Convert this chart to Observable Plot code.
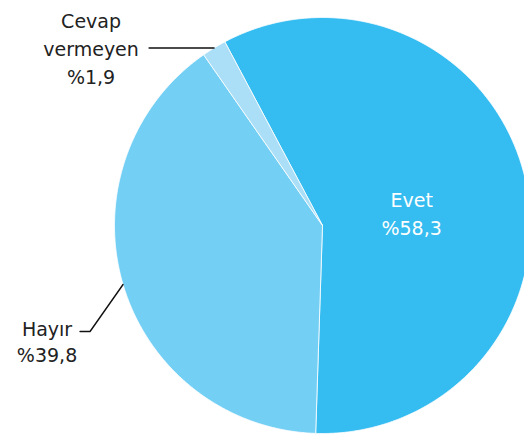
<!DOCTYPE html>
<html><head><meta charset="utf-8">
<script src="https://cdn.jsdelivr.net/npm/d3@7"></script>
<script src="https://cdn.jsdelivr.net/npm/@observablehq/plot@0.6"></script>
<style>html,body{margin:0;padding:0;background:#fff} #chart svg{display:block}</style>
</head><body><div id="chart"></div>
<script>
const categories = ["Evet", "Hayır", "Cevap vermeyen"];
const values = [58.3, 39.8, 1.9];
const labels = ["Evet\n%58,3", "Hayır\n%39,8", "Cevap\nvermeyen\n%1,9"];
const colors = ["#35bcf0", "#74cff5", "#aadff7"];

const W = 524, H = 443, cx = 322, cy = 225, R = 208;
const startDeg = -28;
const a0 = startDeg * Math.PI / 180;
const data = categories.map((c, i) => ({category: c, value: values[i], label: labels[i]}));
const arcs = d3.pie().sort(null).value(d => d.value).startAngle(a0).endAngle(a0 + 2 * Math.PI)(data);

// slice outlines (geometry only, derived from the pie angles)
const pts = [];
arcs.forEach(a => {
  const c = a.data.category;
  pts.push({category: c, x: 0, y: 0});
  const n = Math.max(2, Math.ceil((a.endAngle - a.startAngle) / (Math.PI / 360)));
  for (let k = 0; k <= n; k++) {
    const t = a.startAngle + (a.endAngle - a.startAngle) * k / n;
    pts.push({category: c, x: Math.sin(t), y: Math.cos(t)});
  }
  pts.push({category: c, x: 0, y: 0});
});

const mid = a => (a.startAngle + a.endAngle) / 2;
const edge = a => ({x: Math.sin(mid(a)), y: Math.cos(mid(a))});

// leaders
const cev = arcs[2], hay = arcs[1], evt = arcs[0];
const ce = edge(cev), he = edge(hay);
const leaders = [
  {id: "c", x: ce.x, y: ce.y},
  {id: "c", x: ce.x - 65 / R, y: ce.y},
  {id: "h", x: he.x, y: he.y},
  {id: "h", x: he.x - 33 / R, y: he.y - 47 / R},
  {id: "h", x: he.x - 43 / R, y: he.y - 47 / R}
];
const cevEnd = leaders[1], hayEnd = leaders[4];
const evPos = {x: 0.44 * Math.sin(mid(evt)), y: 0.44 * Math.cos(mid(evt)), label: evt.data.label};

const font = {fontFamily: "DejaVu Sans, Verdana, sans-serif", fontSize: 19};

const chart = Plot.plot({
  width: W, height: H,
  margin: 0,
  x: {domain: [-cx / R, (W - cx) / R], axis: null},
  y: {domain: [-(H - cy) / R, cy / R], axis: null},
  color: {domain: categories, range: colors},
  style: {background: "#fff"},
  marks: [
    Plot.line(pts, {x: "x", y: "y", z: "category", fill: "category", stroke: "#fff", strokeWidth: 0.8, curve: "linear"}),
    Plot.line(leaders, {x: "x", y: "y", z: "id", stroke: "#111", strokeWidth: 1.4}),
    Plot.text([evPos], {x: "x", y: "y", text: "label", fill: "#fff", textAnchor: "middle", lineAnchor: "middle", lineHeight: 1.5, dy: 7, ...font}),
    Plot.text([{x: cevEnd.x, y: cevEnd.y, label: cev.data.label}], {x: "x", y: "y", text: "label", fill: "#222", textAnchor: "middle", lineAnchor: "middle", lineHeight: 1.47, dx: -58, dy: -1, ...font}),
    Plot.text([{x: hayEnd.x, y: hayEnd.y, label: hay.data.label}], {x: "x", y: "y", text: "label", fill: "#222", textAnchor: "middle", lineAnchor: "middle", lineHeight: 1.37, dx: -33, dy: 9, ...font})
  ]
});
document.getElementById("chart").appendChild(chart);
</script>
</body></html>
